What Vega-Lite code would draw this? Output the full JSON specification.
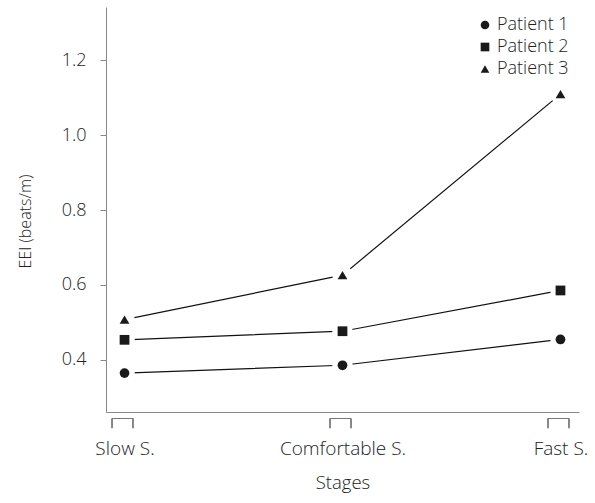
{
  "$schema": "https://vega.github.io/schema/vega-lite/v6.json",
  "autosize": "none",
  "width": 473,
  "height": 405,
  "padding": {"left": 106, "top": 7, "right": 16, "bottom": 91},
  "background": "white",
  "config": {
    "font": "Open Sans",
    "view": {"stroke": null},
    "axis": {"labelFont": "Open Sans", "titleFont": "Open Sans", "labelFontWeight": 300, "titleFontWeight": 300, "labelColor": "#222", "titleColor": "#222", "domainColor": "#888", "tickColor": "#888", "grid": false},
    "legend": {"labelFont": "Open Sans", "labelFontWeight": 300, "labelColor": "#222"}
  },
  "data": {
    "values": [
      {"stage": "Slow S.", "patient": "Patient  1", "eei": 0.364},
      {"stage": "Comfortable S.", "patient": "Patient  1", "eei": 0.385},
      {"stage": "Fast S.", "patient": "Patient  1", "eei": 0.454},
      {"stage": "Slow S.", "patient": "Patient 2", "eei": 0.453},
      {"stage": "Comfortable S.", "patient": "Patient 2", "eei": 0.476},
      {"stage": "Fast S.", "patient": "Patient 2", "eei": 0.585},
      {"stage": "Slow S.", "patient": "Patient 3", "eei": 0.507},
      {"stage": "Comfortable S.", "patient": "Patient 3", "eei": 0.626},
      {"stage": "Fast S.", "patient": "Patient 3", "eei": 1.11}
    ]
  },
  "encoding": {
    "x": {
      "field": "stage", "type": "nominal",
      "sort": ["Slow S.", "Comfortable S.", "Fast S."],
      "scale": {"type": "point", "padding": 0.085},
      "axis": {"title": "Stages", "labelAngle": 0, "ticks": false, "tickSize": 0, "labelPadding": 27, "labelFontSize": 19, "titleFontSize": 18.5, "titlePadding": 15}
    },
    "y": {
      "field": "eei", "type": "quantitative",
      "scale": {"domain": [0.26, 1.343], "nice": false, "zero": false},
      "axis": {"title": "EEI (beats/m)", "values": [0.4, 0.6, 0.8, 1.0, 1.2], "format": ".1f", "tickSize": 6, "labelPadding": 14, "labelFontSize": 18, "titleFontSize": 16, "titleX": -81, "titleY": 214, "titleBaseline": "middle", "titleAlign": "center", "titleAngle": -90}
    }
  },
  "layer": [
    {
      "mark": {"type": "line", "color": "#111", "strokeWidth": 1.2},
      "encoding": {"detail": {"field": "patient"}}
    },
    {
      "mark": {"type": "point", "shape": "circle", "filled": true, "color": "white", "size": 420, "opacity": 1}
    },
    {
      "mark": {"type": "point", "filled": true, "color": "#1a1a1a", "size": 95, "opacity": 1},
      "encoding": {
        "shape": {
          "field": "patient", "type": "nominal",
          "scale": {"domain": ["Patient  1", "Patient 2", "Patient 3"], "range": ["circle", "square", "triangle-up"]},
          "legend": {"title": null, "orient": "none", "legendX": 370, "legendY": 9, "labelFontSize": 18, "symbolSize": 75, "symbolFillColor": "#1a1a1a", "symbolStrokeWidth": 0, "rowPadding": 4, "labelOffset": 3}
        }
      }
    },
    {
      "mark": {"type": "point", "shape": "M-1,0.46 L-1,-0.46 L1,-0.46 L1,0.46", "filled": false, "color": "#777", "strokeWidth": 1, "size": 441, "opacity": 1, "xOffset": -2},
      "encoding": {"y": {"datum": 0.2297}}
    }
  ]
}
